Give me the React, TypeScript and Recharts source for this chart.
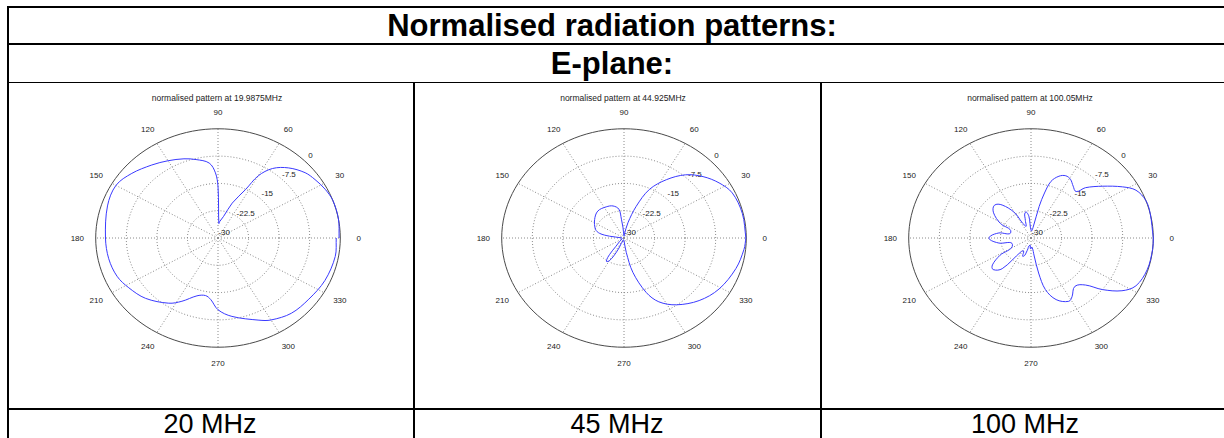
import React from 'react';
import { ScatterChart, Scatter, XAxis, YAxis, ReferenceLine } from 'recharts';

// ---------- data ----------
const heading = 'Normalised radiation patterns:';
const subHeading = 'E-plane:';
const columnLabels = ['20 MHz', '45 MHz', '100 MHz'];
const plotTitles = [
  'normalised pattern at 19.9875MHz',
  'normalised pattern at 44.925MHz',
  'normalised pattern at 100.05MHz',
];

// radial axis (dB)
const radialTicks = [-30, -22.5, -15, -7.5, 0];
const R_MIN = -30;
const R_MAX = 0;
// angular axis (deg)
const angleTicks = [0, 30, 60, 90, 120, 150, 180, 210, 240, 270, 300, 330];

// 20 MHz pattern
const angles20 = [0, 10, 20, 27, 34, 40, 48, 55, 60, 63, 70, 77, 85, 87, 89, 90, 92, 96, 104, 111, 120, 129, 140, 150, 162, 180, 192, 203, 212, 223, 236, 243, 252, 259, 264, 270, 279, 294, 300, 311, 323, 336, 350, 360];
const gain20 = [-0.3, 0, 0, -0.5, -1.3, -2.1, -4.1, -6.7, -10.3, -15, -19.8, -23.9, -25.5, -26, -22, -15.8, -12.1, -9.3, -7.8, -6.7, -5.5, -4.2, -2.4, -1.1, -1.5, -2.4, -2.6, -3.1, -4.2, -5.7, -8.4, -10.5, -13.3, -13.9, -13.0, -10.3, -8.2, -5.3, -4.0, -2.6, -2.1, -1.3, -0.8, -1.0];

// 45 MHz pattern
const angles45 = [0, 13, 25, 33, 41, 49, 57, 65, 71, 77, 85, 88, 95, 97, 99, 107, 117, 131, 145, 161, 168, 172, 178, 200, 222, 229, 232, 236, 240, 243, 246, 255, 272, 278, 283, 290, 296, 305, 317, 329, 343, 354, 360];
const gain45 = [-0.1, -0.2, -0.7, -2.2, -4.3, -7.0, -10.9, -15.3, -20.8, -25.7, -29, -29.5, -27, -24.8, -22, -20.8, -20.4, -20.2, -21.2, -22.6, -23.9, -26.4, -29.5, -29.5, -28.5, -27, -24.3, -22.3, -22.8, -24.5, -27, -29.5, -29, -26, -20.3, -14.1, -10.5, -7.6, -4.8, -2.8, -1.3, -0.4, -0.1];

// 100 MHz pattern
const angles100 = [0, 13, 20, 27, 32, 39, 46, 49, 54, 59, 63.5, 68, 72.5, 75, 77, 80, 88, 95, 101, 106, 112, 120, 128, 135, 143, 152, 162, 170, 177, 182, 190, 202, 212, 218, 223, 230, 237, 243, 249, 255, 262, 268, 275, 279, 281, 284, 290, 298, 302, 309, 316, 321, 327, 333, 343, 354, 360];
const gain100 = [0, 0, 0, -1.1, -3.5, -7.4, -10.8, -13.1, -12.4, -11.2, -10.9, -11.7, -13.7, -17.2, -21.1, -27, -28, -24, -22.8, -25, -26.5, -22, -18.5, -17.3, -18.5, -21.5, -24.8, -22, -20, -19.8, -22, -25.1, -21, -18, -17.3, -19, -25.5, -26, -24.6, -26.5, -28, -27, -27.5, -25, -20.2, -15.4, -12, -10.3, -11, -12.9, -11.4, -7.5, -3.4, -1.1, -0.2, 0, 0];

const patterns = [
  { angles: angles20, gains: gain20 },
  { angles: angles45, gains: gain45 },
  { angles: angles100, gains: gain100 },
];

// ---------- helpers ----------
const FONT = 'Arial, "Liberation Sans", Helvetica, sans-serif';
const D2R = Math.PI / 180;
const norm = (db: number) => Math.max(0, (db - R_MIN) / (R_MAX - R_MIN));
const polarPt = (r: number, deg: number) => ({ x: r * Math.cos(deg * D2R), y: r * Math.sin(deg * D2R) });

const toXY = (angles: number[], gains: number[]) => angles.map((a, i) => polarPt(norm(gains[i]), a));

const ringPoints = (r: number) => {
  const pts: { x: number; y: number }[] = [];
  for (let a = 0; a <= 360; a += 3) pts.push(polarPt(r, a));
  return pts;
};

const angleLabelData = angleTicks.map((a) => ({ ...polarPt(1.15, a), label: String(a) }));
const radialLabelData = radialTicks.map((t) => ({ ...polarPt(norm(t) + 0.07, 45), label: String(t) }));

// smooth curve through the points (bezier with bounded handles)
const smoothCurve: any = (context: any) => {
  let pts: number[][] = [];
  return {
    areaStart() {},
    areaEnd() {},
    lineStart() {
      pts = [];
    },
    point(x: number, y: number) {
      pts.push([+x, +y]);
    },
    lineEnd() {
      const n = pts.length;
      if (!n) return;
      context.moveTo(pts[0][0], pts[0][1]);
      const tan = (i: number) => {
        const p0 = pts[Math.max(0, i - 1)];
        const p2 = pts[Math.min(n - 1, i + 1)];
        const dx = p2[0] - p0[0];
        const dy = p2[1] - p0[1];
        const l = Math.hypot(dx, dy) || 1;
        return [dx / l, dy / l];
      };
      for (let i = 0; i < n - 1; i++) {
        const a = pts[i];
        const b = pts[i + 1];
        const d = Math.hypot(b[0] - a[0], b[1] - a[1]) / 3;
        const ta = tan(i);
        const tb = tan(i + 1);
        context.bezierCurveTo(a[0] + ta[0] * d, a[1] + ta[1] * d, b[0] - tb[0] * d, b[1] - tb[1] * d, b[0], b[1]);
      }
    },
  };
};

const Nothing = () => <g />;
const TextShape = (props: any) => (
  <text
    x={props.cx}
    y={props.cy}
    textAnchor="middle"
    dominantBaseline="central"
    fontSize={8}
    fontFamily={FONT}
    fill="#222"
  >
    {props.payload.label}
  </text>
);

const W = 318;
const H = 284;
const DOM = 1.3;

function PolarPlot({ left, index }: { left: number; index: number }) {
  const p = patterns[index];
  const data = toXY(p.angles, p.gains);
  return (
    <div style={{ position: 'absolute', left, top: 96, width: W, height: H }}>
      <ScatterChart width={W} height={H} margin={{ top: 0, right: 0, bottom: 0, left: 0 }}>
        <XAxis type="number" dataKey="x" domain={[-DOM, DOM]} hide allowDataOverflow />
        <YAxis type="number" dataKey="y" domain={[-DOM, DOM]} hide allowDataOverflow />
        {angleTicks.map((a) => (
          <ReferenceLine
            key={'s' + a}
            segment={[{ x: 0, y: 0 }, polarPt(1, a)]}
            stroke="#8a8a8a"
            strokeDasharray="1 2"
            strokeWidth={1}
            ifOverflow="visible"
          />
        ))}
        {radialTicks.slice(1, -1).map((t) => (
          <Scatter
            key={'r' + t}
            data={ringPoints(norm(t))}
            line={{ stroke: '#8a8a8a', strokeDasharray: '1 2', strokeWidth: 1 }}
            fill="none"
            shape={Nothing}
            isAnimationActive={false}
          />
        ))}
        <Scatter
          data={ringPoints(1)}
          line={{ stroke: '#4a4a4a', strokeWidth: 1 }}
          fill="none"
          shape={Nothing}
          isAnimationActive={false}
        />
        <Scatter data={angleLabelData} shape={TextShape} isAnimationActive={false} />
        <Scatter data={radialLabelData} shape={TextShape} isAnimationActive={false} />
        <Scatter
          data={data}
          line={{ stroke: '#3a3aff', strokeWidth: 1 }}
          lineJointType={smoothCurve}
          fill="none"
          shape={Nothing}
          isAnimationActive={false}
        />
      </ScatterChart>
    </div>
  );
}

const line = (l: number, t: number, w: number, h: number) => (
  <div style={{ position: 'absolute', left: l, top: t, width: w, height: h, background: '#000' }} />
);

const plotLefts = [59, 465, 872];
const plotCenters = [217, 623, 1030];
const colCenters = [210, 617, 1025];

export default function App() {
  return (
    <div style={{ position: 'absolute', left: 0, top: 0, width: 1224, height: 438, overflow: 'hidden', background: '#fff', fontFamily: FONT }}>
      {line(7, 6, 1217, 2)}
      {line(7, 6, 2, 432)}
      {line(7, 43, 1217, 2)}
      {line(7, 82, 1217, 1)}
      {line(413, 82, 2, 356)}
      {line(820, 82, 2, 356)}
      {line(7, 408, 1217, 2)}
      <div style={{ position: 'absolute', left: 612, top: 8, height: 35, lineHeight: '35px', fontWeight: 'bold', fontSize: 31, transform: 'translateX(-50%)', whiteSpace: 'nowrap' }}>
        {heading}
      </div>
      <div style={{ position: 'absolute', left: 612, top: 45, height: 37, lineHeight: '37px', fontWeight: 'bold', fontSize: 31, transform: 'translateX(-50%)', whiteSpace: 'nowrap' }}>
        {subHeading}
      </div>
      {plotTitles.map((t, i) => (
        <div key={t} style={{ position: 'absolute', left: plotCenters[i], top: 93, transform: 'translateX(-50%)', fontSize: 8.5, color: '#222', whiteSpace: 'nowrap', lineHeight: '10px' }}>
          {t}
        </div>
      ))}
      {plotLefts.map((l, i) => (
        <PolarPlot key={i} left={l} index={i} />
      ))}
      {columnLabels.map((t, i) => (
        <div key={t} style={{ position: 'absolute', left: colCenters[i], top: 410, transform: 'translateX(-50%)', fontSize: 27, lineHeight: '28px', height: 28, whiteSpace: 'nowrap' }}>
          {t}
        </div>
      ))}
    </div>
  );
}
